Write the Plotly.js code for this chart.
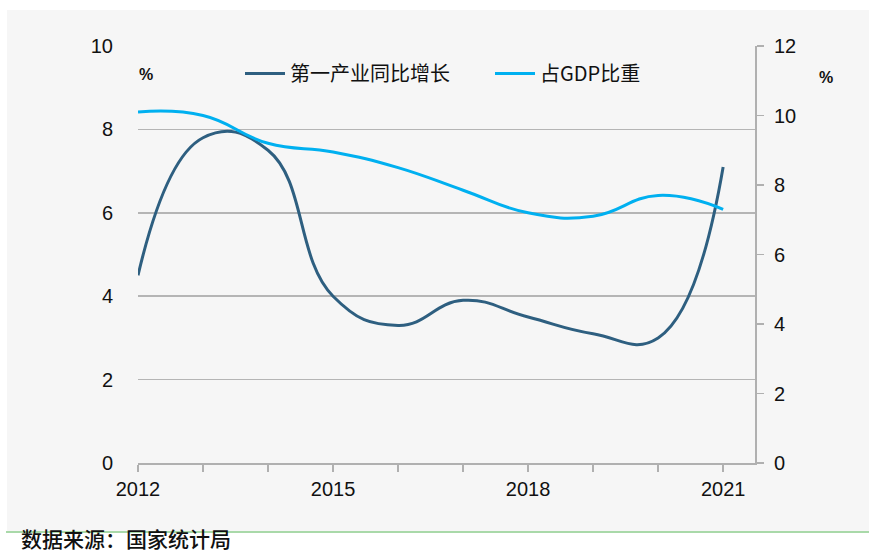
<!DOCTYPE html>
<html>
<head>
<meta charset="utf-8">
<script src="https://cdn.plot.ly/plotly-3.0.1.min.js"></script>
<style>html,body{margin:0;padding:0;background:#fff;}#chart{width:869px;height:555px;}</style>
</head>
<body>
<div id="chart"></div>
<script>
var years = [2012, 2013, 2014, 2015, 2016, 2017, 2018, 2019, 2020, 2021];
var growthName = '第一产业同比增长';
var growth = [4.5, 7.8, 7.5, 4.0, 3.3, 3.9, 3.5, 3.1, 3.0, 7.1];
var shareName = '占GDP比重';
var share = [10.1, 10.0, 9.2, 8.95, 8.5, 7.85, 7.2, 7.1, 7.7, 7.3];
var xTickVals = [2012, 2013, 2014, 2015, 2016, 2017, 2018, 2019, 2020, 2021];
var xTickText = ['2012', '', '', '2015', '', '', '2018', '', '', '2021'];
var leftTicks = [0, 2, 4, 6, 8, 10];
var rightTicks = [0, 2, 4, 6, 8, 10, 12];
var sourceText = '数据来源：国家统计局';

var L = 138, R = 755, T = 46, B = 463;
function px(x){ return (x - L) / (R - L); }
function py(y){ return (B - y) / (B - T); }

var font = 'Liberation Sans, Arial, sans-serif';
var cjk = 'Noto Sans CJK SC, sans-serif';

var traces = [
  {x: years, y: growth, name: growthName, type: 'scatter', mode: 'lines',
   line: {color: '#2e5f80', width: 3, shape: 'spline', smoothing: 1.3}, yaxis: 'y'},
  {x: years, y: share, name: shareName, type: 'scatter', mode: 'lines',
   line: {color: '#00b0f0', width: 3, shape: 'spline', smoothing: 1.3}, yaxis: 'y2'}
];

var layout = {
  width: 869, height: 555,
  margin: {l: L, r: 869 - R, t: T, b: 555 - B, pad: 0},
  paper_bgcolor: '#ffffff',
  plot_bgcolor: 'rgba(0,0,0,0)',
  showlegend: true,
  legend: {orientation: 'h', x: px(240), y: py(54), xanchor: 'left', yanchor: 'top',
           bgcolor: 'rgba(0,0,0,0)', font: {family: cjk, size: 20, color: '#111'},
           itemwidth: 40, traceorder: 'normal', entrywidth: 195},
  xaxis: {range: [2012, 2021.49], tickmode: 'array', tickvals: xTickVals, ticktext: xTickText,
          ticks: 'outside', ticklen: 7, tickcolor: '#b0b0b0', tickwidth: 1.5,
          showline: true, linecolor: '#b0b0b0', linewidth: 2, showgrid: false, zeroline: false,
          tickfont: {family: font, size: 20, color: '#111'}, fixedrange: true},
  yaxis: {range: [0, 10], tickmode: 'array', tickvals: leftTicks,
          showgrid: true, gridcolor: '#b5b5b5', gridwidth: 1.5, zeroline: false, showline: false,
          ticks: '', ticklabelstandoff: 24,
          tickfont: {family: font, size: 20, color: '#111'}, fixedrange: true},
  yaxis2: {range: [0, 12], overlaying: 'y', side: 'right', tickmode: 'array', tickvals: rightTicks,
           showgrid: false, zeroline: false, showline: true, linecolor: '#b0b0b0', linewidth: 2,
           ticks: 'outside', ticklen: 7, tickcolor: '#b0b0b0', tickwidth: 1.5, ticklabelstandoff: 6,
           tickfont: {family: font, size: 20, color: '#111'}, fixedrange: true},
  shapes: [
    {type: 'rect', xref: 'paper', yref: 'paper', x0: px(7), x1: px(869), y0: py(10), y1: py(531),
     fillcolor: '#f6f6f6', line: {width: 0}, layer: 'below'},
    {type: 'line', xref: 'paper', yref: 'paper', x0: px(6), x1: px(869), y0: py(532), y1: py(532),
     line: {color: '#a9d9a9', width: 2}, layer: 'below'}
  ],
  annotations: [
    {text: '%', xref: 'paper', yref: 'paper', x: px(146), y: py(74), xanchor: 'center', yanchor: 'middle',
     showarrow: false, font: {family: font, size: 16, color: '#111', weight: 'bold'}},
    {text: '%', xref: 'paper', yref: 'paper', x: px(826), y: py(77), xanchor: 'center', yanchor: 'middle',
     showarrow: false, font: {family: font, size: 16, color: '#111', weight: 'bold'}},
    {text: sourceText, xref: 'paper', yref: 'paper', x: px(20), y: py(554), xanchor: 'left', yanchor: 'bottom',
     showarrow: false, borderpad: 0, font: {family: cjk, size: 21, color: '#111', weight: 500}}
  ]
};

Plotly.newPlot('chart', traces, layout, {staticPlot: true, displayModeBar: false});
</script>
</body>
</html>
